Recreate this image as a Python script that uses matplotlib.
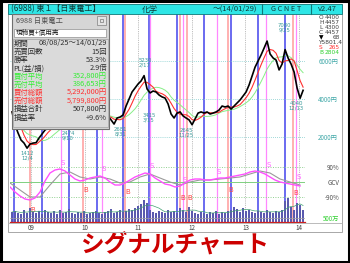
import matplotlib
matplotlib.use("Agg")
import matplotlib.pyplot as plt
import matplotlib.dates as mdates
import pandas as pd
from matplotlib.patches import Rectangle

plt.rcParams['font.family'] = ['Noto Sans CJK JP', 'DejaVu Sans']

W, H = 350, 263

# ---------------- data ----------------
price_start = "2008-08-25"
price_end = "2014-01-29"
price = [3320, 2630, 2210, 1840, 1680, 1412, 1630, 1680, 1700, 1950,
         2160, 2370, 2470, 2580, 2680, 2790, 2900, 2900, 2600, 2474,
         2800, 3110, 3210, 3160, 3260, 3160, 3210, 3110, 3160, 3050,
         3110, 3050, 3110, 2900, 2681, 3000, 3050, 3160, 3630, 4000,
         4370, 4580, 4790, 4950, 5230, 4530, 4320, 4420, 4370, 4210,
         4110, 4050, 3740, 3210, 3000, 3260, 3320, 3110, 3000, 2900,
         2645, 2950, 3260, 3320, 3260, 3320, 3210, 3260, 3320, 3420,
         3630, 3580, 3630, 3470, 3630, 3790, 3950, 4160, 4370, 4740,
         5210, 5680, 6000, 6320, 6680, 7050, 6370, 6160, 6050, 5530,
         5840, 6600, 6160, 5840, 5420, 4580, 4040, 4457]
volume = [1250, 1380, 1130, 1000, 1500, 1130, 1750, 1250, 1130, 1380,
          1000, 1500, 1250, 1130, 1380, 1000, 1500, 1130, 1250, 1630,
          1130, 1000, 1250, 1130, 1380, 1000, 1130, 1250, 1380, 1130,
          1000, 1250, 1380, 1630, 1130, 1250, 1500, 1250, 1380, 1630,
          1500, 1750, 2000, 2250, 2750, 2380, 1500, 1250, 1130, 1380,
          1250, 1130, 1500, 1250, 1380, 1130, 1750, 1500, 1250, 1880,
          1380, 1130, 1000, 1250, 1130, 1000, 1250, 1130, 1380, 1000,
          1250, 1130, 1380, 1500, 1880, 1630, 1250, 1750, 1380, 1500,
          1250, 1130, 1380, 1250, 1130, 1500, 1250, 1130, 1380, 1250,
          1500, 2630, 3000, 1880, 1500, 2380, 2130, 1500]

osc_start = "2008-08-11"
osc_end = "2014-01-08"
osc_pink = [-30, -60, -84, -102, -108, -96, -60, 6, 54, 72,
            78, 66, 42, 18, 6, 12, 24, 30, 36, 24,
            0, -18, -18, -6, 12, 30, 42, 54, 48, 24,
            6, -12, -18, -30, -24, -6, 12, 18, 18, 12,
            12, 18, 24, 24, 30, 36, 42, 48, 60, 66,
            60, 48, 30, 12, 0, -6, -12, -18, -24]
osc_gray = [-6, -48, -90, -90, -18, 48, 60, 30, 18, 30,
            18, -6, 0, 30, 48, 24, 0, -18, 0, 12,
            12, 18, 24, 30, 48, 66, 54, 18, 0, -18]

blue_dates = ["2008-09-07", "2009-03-17", "2009-09-17", "2010-03-26", "2010-09-20",
              "2011-03-16", "2011-09-23", "2012-03-25", "2012-09-25", "2013-03-29",
              "2013-09-28"]
sell_dates = ["2009-07-24", "2010-04-29", "2011-03-20", "2011-11-02", "2012-06-21",
              "2013-05-22", "2013-12-12"]
sell_levels = [114, 78, 96, 12, 60, 102, 30]
buy_dates = ["2008-12-25", "2009-12-21", "2010-10-03", "2011-10-13", "2011-11-30",
             "2012-09-05", "2013-11-22"]
buy_levels = [-168, -48, -60, -96, -96, -48, -66]

mark_dates = ["2008-12-04", "2009-09-10", "2010-08-31", "2011-02-17", "2011-03-15",
              "2011-11-25", "2013-09-25", "2013-12-13"]
mark_prices = [1412, 2474, 2681, 5230, 3415, 2645, 7080, 4040]
mark_kind = ["low", "low", "low", "high", "low", "low", "high", "low"]

price_ticks = [2000, 4000, 6000]
osc_ticks = [90, 0, -90]
osc_tick_labels = ["90%", "GCV", "-90%"]
vol_ticks = [500]

info_labels = ["O", "H", "L", "C", "▼", "Y", "S", "B"]
info_values = ["4400", "4457", "4300", "4457", "68", "5801.4", "265", "2804"]
info_colors = ["#404040"] * 6 + ["#ff3030", "#30d030"]

box_labels = ["期間", "売買回数", "勝率", "PL(益/損)", "買付平均", "売付平均",
              "買付総額", "売付総額", "損益合計", "損益率"]
box_values = ["08/08/25～14/01/29", "15回", "53.3%", "2.9倍", "352,800円", "386,653円",
              "5,292,000円", "5,799,800円", "507,800円", "+9.6%"]
box_colors = ["#303030"] * 4 + ["#33ee33"] * 2 + ["#ff3030"] * 2 + ["#303030"] * 2

# ---------------- figure ----------------
fig = plt.figure(figsize=(W / 100, H / 100), dpi=100)
fig.patch.set_facecolor("white")


def rect(x0, y0, x1, y1):
    return [x0 / W, 1 - y1 / H, (x1 - x0) / W, (y1 - y0) / H]


dates = pd.date_range(price_start, price_end, periods=len(price))
odates = pd.date_range(osc_start, osc_end, periods=len(osc_pink))
gdates = pd.date_range(osc_start, osc_end, periods=len(osc_gray))
ps = pd.Series(price)
ma_short = ps.rolling(4, min_periods=1).mean()
ma_long = ps.rolling(9, min_periods=1).mean()
vs = pd.Series(volume)
vol_ma = vs.rolling(6, min_periods=1).mean()

xl = (pd.Timestamp("2008-08-11"), pd.Timestamp("2014-02-11"))

# background axes: vertical signal lines & year grid
bg = fig.add_axes(rect(10, 14, 305, 222), zorder=1)
bg.set_xlim(xl)
bg.set_ylim(0, 1)
bg.set_facecolor("white")
for s in bg.spines.values():
    s.set_visible(False)
bg.set_yticks([])
bg.xaxis.set_major_locator(mdates.YearLocator())
bg.tick_params(axis="x", length=0, labelbottom=False)
bg.grid(axis="x", color="#a8a8a8", linestyle=(0, (1, 1.2)), linewidth=0.6)
for d in blue_dates:
    bg.axvline(pd.Timestamp(d), color="#6a6af0", linewidth=1.4)
for d in sell_dates:
    bg.axvline(pd.Timestamp(d), color="#ff88ff", linewidth=0.9)
for d in buy_dates:
    bg.axvline(pd.Timestamp(d), color="#ffaaaa", linewidth=1.3)

# oscillator
oax = fig.add_axes(rect(10, 150, 305, 221), zorder=2)
oax.set_facecolor("none")
oax.set_xlim(xl)
oax.set_ylim(-234, 192)
for s in oax.spines.values():
    s.set_visible(False)
for t in osc_ticks:
    if t == 0:
        oax.axhline(t, color="#80d080", linewidth=0.7)
    else:
        oax.axhline(t, color="#90d090", linewidth=0.7, linestyle=(0, (1, 1.5)))
oax.plot(gdates, osc_gray, color="#9a9a9a", linewidth=0.8)
oax.plot(odates, osc_pink, color="#ff50ff", linewidth=1.0)
for d, lv in zip(sell_dates, sell_levels):
    oax.text(pd.Timestamp(d), lv, "S", color="#ff66ff", fontsize=5, ha="left",
             va="center", family=["DejaVu Sans"])
for d, lv in zip(buy_dates, buy_levels):
    oax.text(pd.Timestamp(d), lv, "B", color="#ff4444", fontsize=5, ha="left",
             va="center", family=["DejaVu Sans"])
oax.yaxis.tick_right()
oax.set_yticks(osc_ticks, labels=osc_tick_labels)
oax.tick_params(axis="y", length=0, pad=25, labelsize=4.5, labelcolor="#505050")
for lbl in oax.get_yticklabels():
    lbl.set_ha("right")
oax.set_xticks([])

# volume
vax = fig.add_axes(rect(10, 196, 305, 222), zorder=3)
vax.set_facecolor("none")
vax.set_xlim(xl)
vax.set_ylim(0, 3250)
vax.bar(dates, volume, width=17, color="#5a5aae", linewidth=0)
vax.plot(dates, vol_ma, color="#40a070", linewidth=0.5)
for t in vol_ticks:
    vax.axhline(t, color="#a0a0a0", linewidth=0.5)
for k, s in vax.spines.items():
    s.set_visible(k == "bottom")
vax.spines["bottom"].set_color("#d02020")
vax.spines["bottom"].set_linewidth(0.9)
vax.yaxis.tick_right()
vax.set_yticks(vol_ticks, labels=["500万"])
vax.tick_params(axis="y", length=0, pad=25, labelsize=4.5, labelcolor="#30d030")
for lbl in vax.get_yticklabels():
    lbl.set_ha("right")
vax.xaxis.set_major_locator(mdates.YearLocator())
vax.xaxis.set_major_formatter(mdates.DateFormatter("%y"))
vax.tick_params(axis="x", length=0, pad=1.5, labelsize=4.5, labelcolor="#404040")

# price
pax = fig.add_axes(rect(10, 14, 305, 150), zorder=4)
pax.set_facecolor("none")
pax.set_xlim(xl)
pax.set_ylim(1316, 8474)
for s in pax.spines.values():
    s.set_visible(False)
pax.set_yticks(price_ticks, labels=[f"{p}円" for p in price_ticks])
pax.yaxis.tick_right()
pax.tick_params(axis="y", length=0, pad=9.5, labelsize=4.5, labelcolor="#40a8a8")
pax.grid(axis="y", color="#80cccc", linestyle=(0, (1, 1.5)), linewidth=0.6)
pax.set_xticks([])
pax.plot(dates, ma_long, color="#88ee88", linewidth=0.7)
pax.plot(dates, ma_short, color="#ff3030", linewidth=0.8)
pax.plot(dates, price, color="black", linewidth=1.2)
for d, p, k in zip(mark_dates, mark_prices, mark_kind):
    ts = pd.Timestamp(d)
    txt = f"{p}\n{ts.month}/{ts.day}"
    if k == "low":
        pax.annotate(txt, (ts, p), xytext=(0, -2), textcoords="offset points",
                     ha="center", va="top", fontsize=3.8, color="#3a9a9a",
                     linespacing=0.9, family=["DejaVu Sans"])
    else:
        pax.annotate(txt, (ts, p), xytext=(0, 6), textcoords="offset points",
                     ha="center", va="bottom", fontsize=3.8, color="#3a9a9a",
                     linespacing=0.9, family=["DejaVu Sans"])

# ---------------- overlay (title bar, info box, frames) ----------------
top = fig.add_axes([0, 0, 1, 1], zorder=10)
top.set_xlim(0, W)
top.set_ylim(H, 0)
top.axis("off")
top.patch.set_alpha(0)

# screenshot frame
top.add_patch(Rectangle((8, 4), 334, 228, fill=False, edgecolor="#a8a8a8", linewidth=0.7))
top.plot([8, 342], [222.5, 222.5], color="#b0b0b0", linewidth=0.6)
# outer black border
top.add_patch(Rectangle((1, 1), W - 2, H - 2, fill=False, edgecolor="black", linewidth=2.2))

# title bar
top.add_patch(Rectangle((8, 4), 334, 9.5, facecolor="#2ee6e6", edgecolor="#107878", linewidth=0.6))
for xs in (262, 311):
    top.plot([xs, xs], [4, 13.5], color="#107878", linewidth=0.8)
top.text(11, 8.9, "(6988) 東１【日東電工】", fontsize=5.8, va="center", ha="left", color="#103838")
top.text(150, 8.9, "化学", fontsize=5.8, va="center", ha="center", color="#103838")
top.text(213, 8.9, "～(14/01/29)", fontsize=5.5, va="center", ha="left", color="#103838")
top.text(286.5, 8.9, "G C N E T", fontsize=5.3, va="center", ha="center", color="#103838")
top.text(327, 8.9, "v2.47", fontsize=5.5, va="center", ha="center", color="#103838")

# right info column
for i, (lb, vl, c) in enumerate(zip(info_labels, info_values, info_colors)):
    yy = 17.5 + i * 5.0
    if lb == "Y":
        top.text(318, yy, lb + vl, fontsize=4.2, ha="left", va="center", color=c,
                 family=["DejaVu Sans"])
    else:
        top.text(319, yy, lb, fontsize=4.2, ha="left", va="center",
                 color="black" if lb == "▼" else c, family=["DejaVu Sans"])
        top.text(340, yy, vl, fontsize=4.2, ha="right", va="center", color=c,
                 family=["DejaVu Sans"])

# info box
top.add_patch(Rectangle((12, 13.5), 97, 115, facecolor="#d6d6d6", edgecolor="#707070", linewidth=0.8))
top.text(16, 20.5, "6988 日東電工", fontsize=5.2, va="center", ha="left", color="#505050")
top.add_patch(Rectangle((97, 15.5), 9, 9.5, facecolor="#e4e4e4", edgecolor="#808080", linewidth=0.5))
top.add_patch(Rectangle((99.7, 18.5), 3.6, 3.4, fill=False, edgecolor="#606060", linewidth=0.4))
top.add_patch(Rectangle((14, 28.5), 92, 8.5, facecolor="white", edgecolor="#909090", linewidth=0.5))
top.text(16, 32.8, "現物買+信用売", fontsize=4.8, va="center", ha="left", color="#202020")
top.add_patch(Rectangle((13, 38.5), 95, 88.5, facecolor="#dadada", edgecolor="#a0a0a0", linewidth=0.5))
for i, (lb, vl, c) in enumerate(zip(box_labels, box_values, box_colors)):
    yy = 43.5 + i * 8.25
    top.text(13.5, yy, lb, fontsize=5.3, va="center", ha="left", color=c)
    top.text(107, yy, vl, fontsize=5.3, va="center", ha="right", color=c)

# big caption
fig.text(175 / W, 1 - 246 / H, "シグナルチャート", fontsize=17, fontweight="bold",
         color="#cc0000", ha="center", va="center")

fig.savefig("out.png", dpi=100, facecolor="white")
